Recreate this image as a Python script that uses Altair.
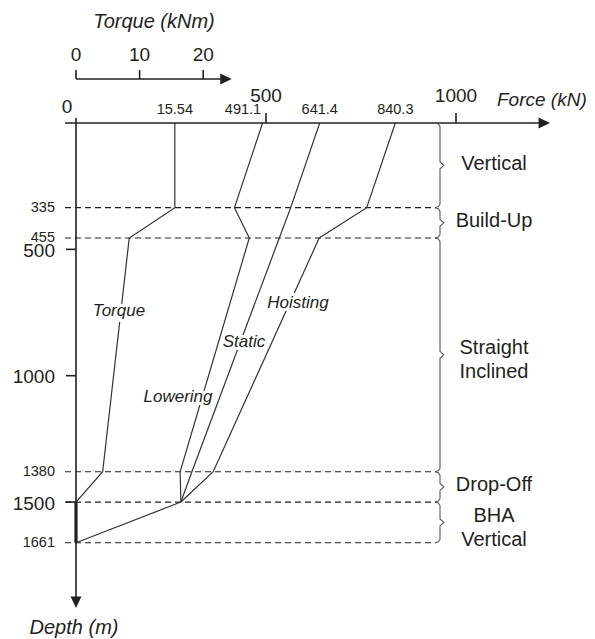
import altair as alt
import pandas as pd

# ---------------- data ----------------
depth_pts = [0, 335, 455, 1380, 1500]            # m
torque_knm = [15.54, 15.54, 8.37, 4.19, 0.0]     # kNm
lowering_kn = [491.1, 417, 456, 274, 276]        # kN
static_kn = [641.4, 565, 535, 305, 276]          # kN
hoisting_kn = [840.3, 765, 640, 361, 276]        # kN
bha_depth = [1500, 1661]
bha_force = [276, 0]
bha_torque = [0, 0]

surface_torque = [15.54]
surface_torque_txt = ["15.54"]
surface_force = [491.1, 641.4, 840.3]
surface_force_txt = ["491.1", "641.4", "840.3"]

section_bounds = [0, 335, 455, 1380, 1500, 1661]
section_names = [["Vertical"], ["Build-Up"], ["Straight", "Inclined"], ["Drop-Off"], ["BHA", "Vertical"]]

torque_ticks = [0, 10, 20]
force_ticks = [500, 1000]
depth_major = [500, 1000, 1500]
depth_minor = [335, 455, 1380, 1661]
dashed_depths = [335, 455, 1380, 1500, 1661]

curve_names = ["Torque", "Lowering", "Static", "Hoisting"]

# ---------------- layout (page pixels) ----------------
W, H = 579, 631
MARGIN = 8
X0_PAGE, Y0_PAGE = 76.0, 123.0
FPX, TPX, DPX = 0.38, 6.36, 0.2527
INK = "#231f20"
LINE = "#333333"
FONT = "Liberation Sans"
LINE_H = 24


def fx(px):
    return (px - X0_PAGE) / FPX


def tx(px):
    return (px - X0_PAGE) / TPX


def dy(py):
    return (py - Y0_PAGE) / DPX


F_DOM = [fx(MARGIN), fx(MARGIN + W)]
T_DOM = [tx(MARGIN), tx(MARGIN + W)]
D_DOM = [dy(MARGIN), dy(MARGIN + H)]


def fX(field):
    return alt.X(f"{field}:Q", scale=alt.Scale(domain=F_DOM, nice=False, zero=False), axis=None)


def tX(field):
    return alt.X(f"{field}:Q", scale=alt.Scale(domain=T_DOM, nice=False, zero=False), axis=None)


def dY(field):
    return alt.Y(f"{field}:Q", scale=alt.Scale(domain=D_DOM, nice=False, zero=False, reverse=True), axis=None)


layers = []

# dashed section boundaries
df_dash = pd.DataFrame({"depth": dashed_depths, "x": fx(65), "x2": fx(436)})
layers.append(alt.Chart(df_dash).mark_rule(strokeDash=[6, 4], strokeWidth=1.2, color=INK)
              .encode(x=fX("x"), x2=alt.X2("x2"), y=dY("depth")))

# force curves
rows = []
for name, vals in [("Lowering", lowering_kn), ("Static", static_kn), ("Hoisting", hoisting_kn)]:
    for i, (d, v) in enumerate(zip(depth_pts, vals)):
        rows.append({"series": name, "depth": d, "force": v, "order": i})
df_force = pd.DataFrame(rows)
layers.append(alt.Chart(df_force).mark_line(strokeWidth=1.2, color=LINE)
              .encode(x=fX("force"), y=dY("depth"), detail="series:N", order="order:Q"))
df_bha = pd.DataFrame({"depth": bha_depth, "force": bha_force})
layers.append(alt.Chart(df_bha).mark_line(strokeWidth=1.2, color=LINE)
              .encode(x=fX("force"), y=dY("depth")))

# torque curve
df_tq = pd.DataFrame({"depth": depth_pts, "torque": torque_knm, "order": range(len(depth_pts))})
layers.append(alt.Chart(df_tq).mark_line(strokeWidth=1.2, color=LINE)
              .encode(x=tX("torque"), y=dY("depth"), order="order:Q"))
df_tq_bha = pd.DataFrame({"torque": [bha_torque[0]], "d1": [bha_depth[0]], "d2": [bha_depth[1]]})
layers.append(alt.Chart(df_tq_bha).mark_rule(strokeWidth=3.2, color=INK)
              .encode(x=tX("torque"), y=dY("d1"), y2=alt.Y2("d2")))

# ---- force axis ----
F_ARROW = fx(544.3)
df_fax = pd.DataFrame({"x": [fx(65)], "x2": [F_ARROW], "y": [0]})
layers.append(alt.Chart(df_fax).mark_rule(strokeWidth=1.6, color=INK)
              .encode(x=fX("x"), x2=alt.X2("x2"), y=dY("y")))
df_ftick = pd.DataFrame({"v": force_ticks, "y": dy(113), "y2": 0, "lab": [str(v) for v in force_ticks], "ly": dy(96)})
layers.append(alt.Chart(df_ftick).mark_rule(strokeWidth=1.6, color=INK)
              .encode(x=fX("v"), y=dY("y"), y2=alt.Y2("y2")))
layers.append(alt.Chart(df_ftick).mark_text(font=FONT, fontSize=19, color=INK, baseline="middle", align="center")
              .encode(x=fX("v"), y=dY("ly"), text="lab:N"))
df_farrow = pd.DataFrame({"x": [F_ARROW], "y": [0]})
layers.append(alt.Chart(df_farrow).mark_point(shape="M 1 0 L -1 -0.95 L -1 0.95 Z", size=132, filled=True,
                                              opacity=1, color=INK, strokeWidth=0)
              .encode(x=fX("x"), y=dY("y")))
df_ftitle = pd.DataFrame({"x": [fx(497)], "y": [dy(100)], "t": ["Force (kN)"]})
layers.append(alt.Chart(df_ftitle).mark_text(font=FONT, fontSize=19, fontStyle="italic", color=INK,
                                             align="left", baseline="middle")
              .encode(x=fX("x"), y=dY("y"), text="t:N"))
df_zero = pd.DataFrame({"x": [fx(67)], "y": [dy(107)], "t": ["0"]})
layers.append(alt.Chart(df_zero).mark_text(font=FONT, fontSize=19, color=INK, align="center", baseline="middle")
              .encode(x=fX("x"), y=dY("y"), text="t:N"))

# surface values
df_sf = pd.DataFrame({"v": surface_force, "t": surface_force_txt, "y": dy(110)})
df_sf["lx"] = df_sf["v"] + [fx(243) - 491.1, 0, 0]
layers.append(alt.Chart(df_sf).mark_text(font=FONT, fontSize=14.5, color=INK, align="center", baseline="middle")
              .encode(x=fX("lx"), y=dY("y"), text="t:N"))
df_st = pd.DataFrame({"v": surface_torque, "t": surface_torque_txt, "y": dy(110)})
layers.append(alt.Chart(df_st).mark_text(font=FONT, fontSize=14.5, color=INK, align="center", baseline="middle")
              .encode(x=tX("v"), y=dY("y"), text="t:N"))

# ---- torque axis ----
T_ARROW = tx(226)
df_tax = pd.DataFrame({"x": [0], "x2": [T_ARROW], "y": [dy(79)]})
layers.append(alt.Chart(df_tax).mark_rule(strokeWidth=1.6, color=INK)
              .encode(x=tX("x"), x2=alt.X2("x2"), y=dY("y")))
df_ttick = pd.DataFrame({"v": torque_ticks, "y": dy(70), "y2": dy(79),
                         "lab": [str(v) for v in torque_ticks], "ly": dy(55)})
layers.append(alt.Chart(df_ttick).mark_rule(strokeWidth=1.6, color=INK)
              .encode(x=tX("v"), y=dY("y"), y2=alt.Y2("y2")))
layers.append(alt.Chart(df_ttick).mark_text(font=FONT, fontSize=19, color=INK, align="center", baseline="middle")
              .encode(x=tX("v"), y=dY("ly"), text="lab:N"))
df_tarrow = pd.DataFrame({"x": [T_ARROW], "y": [dy(79)]})
layers.append(alt.Chart(df_tarrow).mark_point(shape="M 1 0 L -1 -0.95 L -1 0.95 Z", size=132, filled=True,
                                              opacity=1, color=INK, strokeWidth=0)
              .encode(x=tX("x"), y=dY("y")))
df_ttitle = pd.DataFrame({"x": [tx(154)], "y": [dy(22)], "t": ["Torque (kNm)"]})
layers.append(alt.Chart(df_ttitle).mark_text(font=FONT, fontSize=20, fontStyle="italic", color=INK,
                                             align="center", baseline="middle")
              .encode(x=tX("x"), y=dY("y"), text="t:N"))

# ---- depth axis ----
D_ARROW = dy(602.3)
df_dax = pd.DataFrame({"x": [0], "y": [dy(118)], "y2": [D_ARROW]})
layers.append(alt.Chart(df_dax).mark_rule(strokeWidth=1.6, color=INK)
              .encode(x=fX("x"), y=dY("y"), y2=alt.Y2("y2")))
df_dtick = pd.DataFrame({"d": depth_major, "x": fx(66), "x2": 0, "lab": [str(v) for v in depth_major], "lx": fx(55)})
layers.append(alt.Chart(df_dtick).mark_rule(strokeWidth=1.6, color=INK)
              .encode(x=fX("x"), x2=alt.X2("x2"), y=dY("d")))
layers.append(alt.Chart(df_dtick).mark_text(font=FONT, fontSize=19, color=INK, align="right", baseline="middle", dy=1.5)
              .encode(x=fX("lx"), y=dY("d"), text="lab:N"))
df_dminor = pd.DataFrame({"d": depth_minor, "lab": [str(v) for v in depth_minor], "lx": fx(55)})
layers.append(alt.Chart(df_dminor).mark_text(font=FONT, fontSize=14.5, color=INK, align="right", baseline="middle", dy=0.5)
              .encode(x=fX("lx"), y=dY("d"), text="lab:N"))
df_darrow = pd.DataFrame({"x": [0], "y": [D_ARROW]})
layers.append(alt.Chart(df_darrow).mark_point(shape="M 0 1 L -0.95 -1 L 0.95 -1 Z", size=132, filled=True,
                                              opacity=1, color=INK, strokeWidth=0)
              .encode(x=fX("x"), y=dY("y")))
df_dtitle = pd.DataFrame({"x": [fx(74)], "y": [dy(628)], "t": ["Depth (m)"]})
layers.append(alt.Chart(df_dtitle).mark_text(font=FONT, fontSize=20, fontStyle="italic", color=INK,
                                             align="center", baseline="middle")
              .encode(x=fX("x"), y=dY("y"), text="t:N"))

# ---- curve labels (with white knockout) ----
lab_px = {"Torque": (119, 311), "Lowering": (178, 397), "Static": (244, 342), "Hoisting": (298, 303)}
df_cl = pd.DataFrame({"t": curve_names,
                      "x": [fx(lab_px[n][0]) for n in curve_names],
                      "y": [dy(lab_px[n][1]) for n in curve_names]})
layers.append(alt.Chart(df_cl).mark_text(font=FONT, fontSize=17, fontStyle="italic", color="white",
                                         stroke="white", strokeWidth=6, align="center", baseline="middle")
              .encode(x=fX("x"), y=dY("y"), text="t:N"))
layers.append(alt.Chart(df_cl).mark_text(font=FONT, fontSize=17, fontStyle="italic", color=INK,
                                         align="center", baseline="middle")
              .encode(x=fX("x"), y=dY("y"), text="t:N"))

# ---- section braces and names ----
brace_rows = []
sec_rows = []
for i in range(len(section_names)):
    t, b = section_bounds[i], section_bounds[i + 1]
    yt, yb = Y0_PAGE + t * DPX, Y0_PAGE + b * DPX
    ym = (yt + yb) / 2
    pts = [(435, yt), (438.3, yt + 1), (440, yt + 3.5), (440, ym - 3.5), (443.8, ym),
           (440, ym + 3.5), (440, yb - 3.5), (438.3, yb - 1), (435, yb)]
    for k, (px, py) in enumerate(pts):
        brace_rows.append({"brace": i, "order": k, "x": fx(px), "y": dy(py)})
    n_lines = len(section_names[i])
    ly = ym - 1.5 - (n_lines - 1) * (LINE_H / 2 - 7)
    sec_rows.append({"name": section_names[i], "x": fx(494), "y": dy(ly)})
df_br = pd.DataFrame(brace_rows)
layers.append(alt.Chart(df_br).mark_line(strokeWidth=1.1, color="#555555")
              .encode(x=fX("x"), y=dY("y"), detail="brace:N", order="order:Q"))
df_sec = pd.DataFrame(sec_rows)
layers.append(alt.Chart(df_sec).mark_text(font=FONT, fontSize=20, color=INK, align="center",
                                          baseline="middle", lineHeight=LINE_H)
              .encode(x=fX("x"), y=dY("y"), text="name"))

chart = (alt.layer(*layers)
         .resolve_scale(x="independent")
         .properties(width=W, height=H, autosize=alt.AutoSizeParams(type="none"),
                     padding={"left": 0, "right": 0, "top": 0, "bottom": 0},
                     background="white")
         .configure_view(stroke=None))

chart.save("out.html", embed_options={"renderer": "svg", "actions": False})
